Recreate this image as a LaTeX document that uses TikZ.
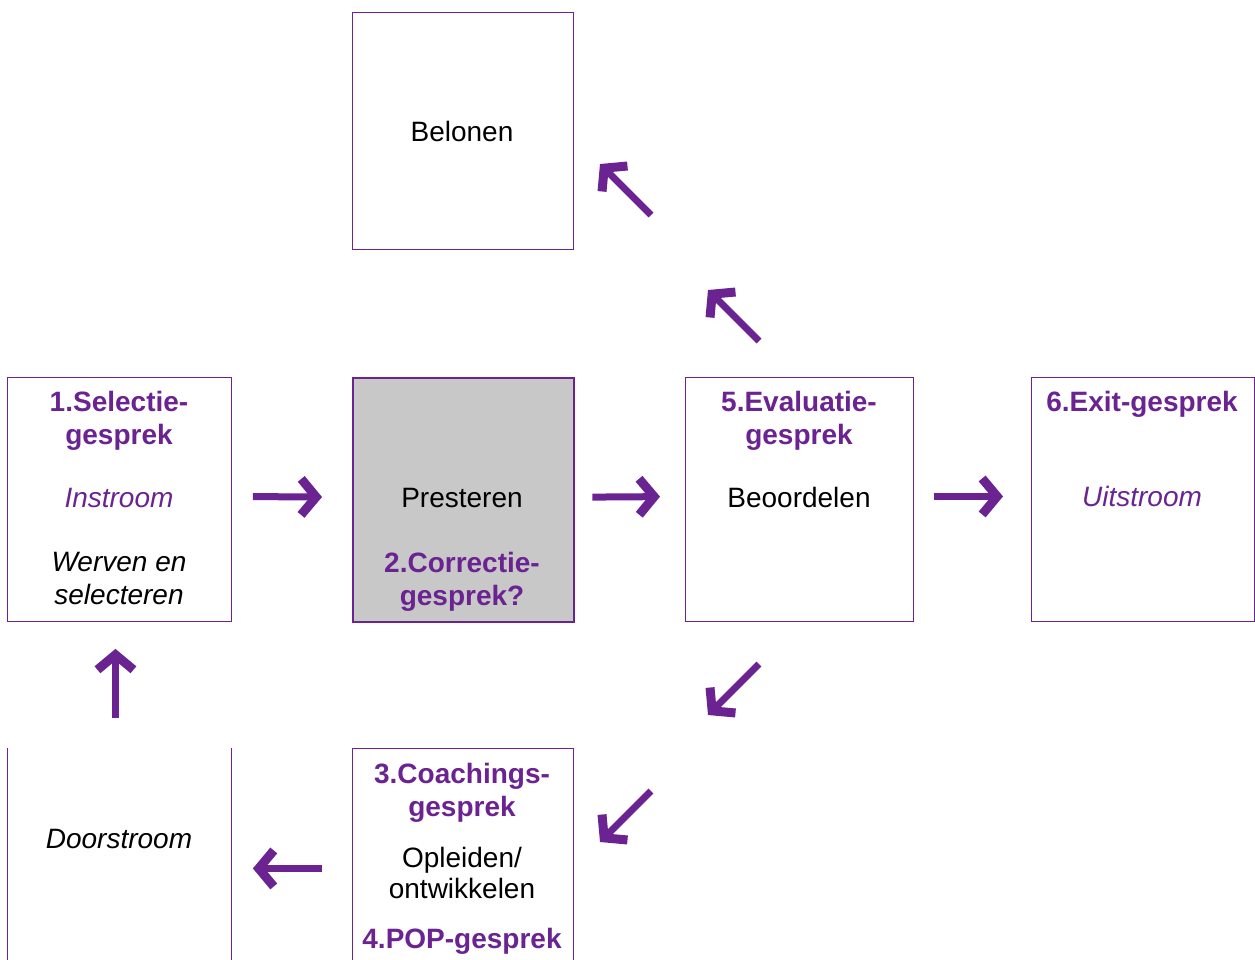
\documentclass[tikz,border=0pt]{standalone}
\usepackage{fontspec}
\setmainfont{Liberation Sans}
\usetikzlibrary{arrows.meta}
\definecolor{paars}{HTML}{6A2391}
\definecolor{grijs}{HTML}{C8C8C8}
\tikzset{
	kader/.style={draw=paars, line width=0.9pt, inner sep=0pt, anchor=north west},
	tekst/.style={anchor=base, align=center, inner sep=0pt, font=\fontsize{28}{33}\selectfont},
	kop/.style={tekst, text=paars, font=\fontsize{28}{33}\selectfont\bfseries},
	pijl/.style={draw=paars, line width=7pt, line join=miter,
		-{Straight Barb[length=15pt, width=36pt, line width=9pt, line join=miter, line cap=butt]}}
}

\begin{document}
\begin{tikzpicture}[x=1pt, y=-1pt]
		%%%%% START %%%%%
		\useasboundingbox (0,0) rectangle (1255,959);
		\clip (0,0) rectangle (1255,959);
		
		% kaders
		\node[kader, minimum width=221pt, minimum height=237pt] (bel) at (352,12) {};
		\node[kader, minimum width=224pt, minimum height=244pt] (sel) at (7,377) {};
		\node[kader, fill=grijs, line width=2.4pt, minimum width=221pt, minimum height=244pt] (pres) at (352,377) {};
		\node[kader, minimum width=228pt, minimum height=244pt] (eval) at (685,377) {};
		\node[kader, minimum width=223pt, minimum height=244pt] (exit) at (1031,377) {};
		\node[kader, minimum width=221pt, minimum height=240pt] (coach) at (352,748) {};
		\node[kader, draw=none, minimum width=224pt, minimum height=240pt] (door) at (7,748) {};
		\draw[draw=paars, line width=0.9pt] (door.north west) -- (door.south west);
		\draw[draw=paars, line width=0.9pt] (door.north east) -- (door.south east);
		
		% teksten (bij twee regels: basislijn van de laatste regel)
		\node[tekst] (tbel) at (462,141) {Belonen};
		
		\node[kop] (tsel) at (119,444) {1.Selectie-\\gesprek};
		\node[tekst, text=paars, font=\fontsize{28}{33}\selectfont\itshape] (tin) at (119,507) {Instroom};
		\node[tekst, font=\fontsize{28}{33}\selectfont\itshape] (twerf) at (119,604) {Werven en\\selecteren};
		
		\node[tekst] (tpres) at (462,507) {Presteren};
		\node[kop] (tcor) at (462,605) {2.Correctie-\\gesprek?};
		
		\node[kop] (teval) at (799,444) {5.Evaluatie-\\gesprek};
		\node[tekst] (tbeo) at (799,507) {Beoordelen};
		
		\node[kop] (texit) at (1142,411) {6.Exit-gesprek};
		\node[tekst, text=paars, font=\fontsize{28}{33}\selectfont\itshape] (tuit) at (1142,506) {Uitstroom};
		
		\node[tekst, font=\fontsize{28}{33}\selectfont\itshape] (tdoor) at (119,848) {Doorstroom};
		
		\node[kop] (tcoach) at (462,816) {3.Coachings-\\gesprek};
		\node[tekst, font=\fontsize{28}{31}\selectfont] (topl) at (462,898) {Opleiden/\\ontwikkelen};
		\node[kop] (tpop) at (462,948) {4.POP-gesprek};
		
		% pijlen
		\draw[pijl, transform canvas={yshift=3pt}, shorten <=21pt, shorten >=30pt] (sel.east) -- (pres.west);
		\draw[pijl, transform canvas={yshift=3pt}, shorten <=17pt, shorten >=25pt] (pres.east) -- (eval.west);
		\draw[pijl, transform canvas={yshift=3pt}, shorten <=20pt, shorten >=28pt] (eval.east) -- (exit.west);
		\draw[pijl, transform canvas={xshift=-4pt}, shorten <=30pt, shorten >=27pt] (door.north) -- (sel.south);
		\draw[pijl, shorten <=30pt, shorten >=21pt] (coach.west) -- (door.east);
		
		\coordinate (nw1) at (651,215);
		\coordinate (nw1e) at (600,164);
		\coordinate (nw2) at (759,341);
		\coordinate (nw2e) at (708,290);
		\coordinate (sw1) at (759,664);
		\coordinate (sw1e) at (708,715);
		\coordinate (sw2) at (651,791);
		\coordinate (sw2e) at (600,842);
		\draw[pijl] (nw1) -- (nw1e);
		\draw[pijl] (nw2) -- (nw2e);
		\draw[pijl] (sw1) -- (sw1e);
		\draw[pijl] (sw2) -- (sw2e);
		
		%%%%% END %%%%%
	\end{tikzpicture}
\end{document}
